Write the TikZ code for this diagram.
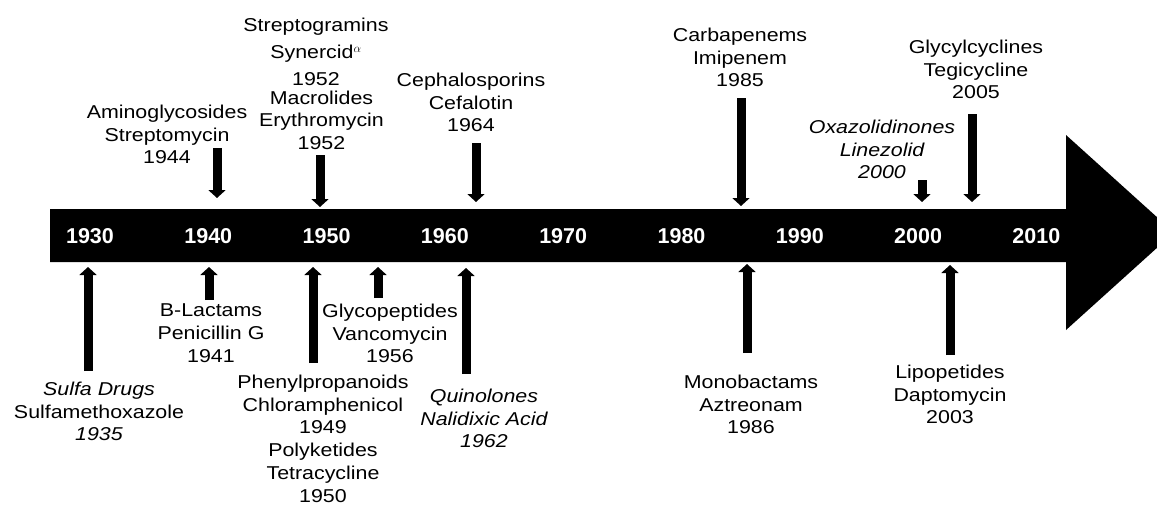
\documentclass[tikz,border=0pt]{standalone}
\usepackage{fontspec}
\setmainfont{Liberation Sans}[FakeStretch=1.15]
\newfontfamily\yearfont{Liberation Sans}
\usetikzlibrary{arrows.meta}

\tikzset{
  drugtxt/.style={anchor=north, align=center, inner sep=0pt,
    font=\fontsize{18.6}{22.8}\selectfont},
  yeartxt/.style={text=white, inner sep=0pt,
    font=\yearfont\fontsize{21.5}{24}\selectfont\bfseries},
  pointer/.style={line width=9pt, -{Triangle[width=17pt,length=8pt]}},
}

\begin{document}
\begin{tikzpicture}[x=1pt,y=-1pt]
\useasboundingbox (0,0) rectangle (1157,504);
\clip (0,0) rectangle (1157,504);

% Time bar with arrow head
\fill (50,209) -- (1066,209) -- (1066,135) -- (1174,232.5)
      -- (1066,330) -- (1066,262) -- (50,262) -- cycle;

% Decades on the bar
\foreach \yr in {1930,1940,...,2010}
  \node[yeartxt] (y\yr) at ({90+(\yr-1930)*11.83},236) {\yr};

% Labels above the bar
\node[drugtxt] (strepto) at (316,17.5)
  {Streptogramins\\[4.5pt]Synercid$^{\alpha}$\\[4.5pt]1952};
\node[drugtxt] (macro) at (321.5,90.5) {Macrolides\\Erythromycin\\1952};
\node[drugtxt] (amino) at (167,104.7) {Aminoglycosides\\Streptomycin\\1944};
\node[drugtxt] (cepha) at (471,72.7) {Cephalosporins\\Cefalotin\\1964};
\node[drugtxt] (carba) at (740,27.7) {Carbapenems\\Imipenem\\1985};
\node[drugtxt] (glycyl) at (976,39.7) {Glycylcyclines\\Tegicycline\\2005};
\node[drugtxt, font=\fontsize{18.6}{22.8}\selectfont\itshape] (oxaz) at (882,119.7)
  {Oxazolidinones\\Linezolid\\2000};

% Labels below the bar
\node[drugtxt] (sulfa) at (99,381.7)
  {\textit{Sulfa Drugs}\\Sulfamethoxazole\\\textit{1935}};
\node[drugtxt] (lact) at (211,303.7) {B-Lactams\\Penicillin G\\1941};
\node[drugtxt] (phenyl) at (323,374.7)
  {Phenylpropanoids\\Chloramphenicol\\1949\\Polyketides\\Tetracycline\\1950};
\node[drugtxt] (glycop) at (390,303.7) {Glycopeptides\\Vancomycin\\1956};
\node[drugtxt, font=\fontsize{18.6}{22.8}\selectfont\itshape] (quino) at (484,388.7)
  {Quinolones\\Nalidixic Acid\\1962};
\node[drugtxt] (mono) at (751,374.7) {Monobactams\\Aztreonam\\1986};
\node[drugtxt] (lipo) at (950,364.7) {Lipopetides\\Daptomycin\\2003};

% Arrow ends
\coordinate (amino-s) at (217,148);  \coordinate (amino-t) at (217,198);
\coordinate (macro-s) at (320,155);  \coordinate (macro-t) at (320,207);
\coordinate (cepha-s) at (476,143);  \coordinate (cepha-t) at (476,202);
\coordinate (carba-s) at (741,98);   \coordinate (carba-t) at (741,206);
\coordinate (oxaz-s) at (922,180);   \coordinate (oxaz-t) at (922,202);
\coordinate (glycyl-s) at (972,114); \coordinate (glycyl-t) at (972,202);

\coordinate (sulfa-s) at (88,371);   \coordinate (sulfa-t) at (88,267);
\coordinate (lact-s) at (209,300);   \coordinate (lact-t) at (209,267);
\coordinate (phenyl-s) at (313,363); \coordinate (phenyl-t) at (313,267);
\coordinate (glycop-s) at (378,298); \coordinate (glycop-t) at (378,267);
\coordinate (quino-s) at (466,374);  \coordinate (quino-t) at (466,268);
\coordinate (mono-s) at (747,353);   \coordinate (mono-t) at (747,264);
\coordinate (lipo-s) at (950,355);   \coordinate (lipo-t) at (950,265);

% Pointers
\foreach \p in {amino,macro,cepha,carba,oxaz,glycyl,
                sulfa,lact,phenyl,glycop,quino,mono,lipo}
  \draw[pointer] (\p-s) -- (\p-t);

\end{tikzpicture}
\end{document}
